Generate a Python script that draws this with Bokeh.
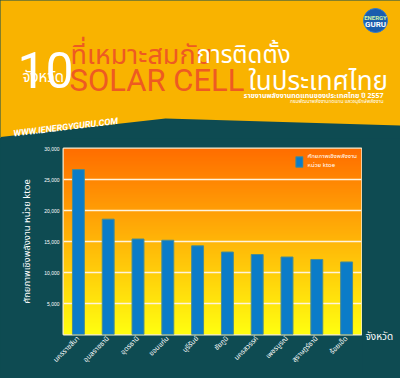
import numpy as np
from math import pi
from bokeh.plotting import figure
from bokeh.layouts import column, row
from bokeh.models import (Range1d, FactorRange, FixedTicker, NumeralTickFormatter,
                          Legend, LegendItem)
from bokeh.core.properties import value
from bokeh.embed import file_html
from bokeh.resources import INLINE

# ---------------- data ----------------
provinces = ["นครราชสีมา", "อุบลราชธานี", "อุดรธานี", "ขอนแก่น", "บุรีรัมย์",
             "ชัยภูมิ", "นครสวรรค์", "เพชรบูรณ์", "สุราษฎร์ธานี", "ร้อยเอ็ด"]
potential_ktoe = [26600, 18600, 15400, 15200, 14300, 13300, 12900, 12500, 12100, 11700]
y_ticks = [5000, 10000, 15000, 20000, 25000, 30000]

legend_label = "ศักยภาพเชิงพลังงาน\nหน่วย ktoe"
y_title = "ศักยภาพเชิงพลังงาน หน่วย ktoe"
x_title = "จังหวัด"

# ---------------- styles ----------------
YEL = "#F9B300"
TEAL = "#0E4B52"
RED = "#EE5A22"
BLUE = "#0B7CC8"
TH = "Noto Sans Thai, Noto Sans, DejaVu Sans, sans-serif"
LAT = "Roboto, sans-serif"


def blank(width, height, x0, x1, y0, y1, color):
    fig = figure(width=width, height=height, x_range=Range1d(x0, x1),
                 y_range=Range1d(y1, y0), output_backend="svg",
                 toolbar_location=None, min_border=0,
                 x_axis_location=None, y_axis_location=None)
    fig.frame_align = False
    fig.grid.visible = False
    fig.outline_line_color = None
    fig.background_fill_color = color
    fig.border_fill_color = color
    return fig


def txt(fig, x, y, s, size, color, font=TH, style="normal", align="left",
        baseline="alphabetic", angle=0):
    fig.text(x=[x], y=[y], text=[s], text_font=value(font), text_font_size=size,
             text_color=color, text_font_style=style, text_align=align,
             text_baseline=baseline, angle=angle)


# ---------------- header (page pixel coordinates) ----------------
h = blank(400, 138, 0, 400, 0, 138, YEL)
h.patch(x=[0, 165, 400, 400, 0], y=[136.5, 118, 125, 150, 150],
        fill_color=TEAL, line_color=None)

txt(h, 17, 69, "10", "50px", "white", font="Liberation Sans Narrow, Roboto")
txt(h, 22, 77, "จังหวัด", "15px", "white")
txt(h, 70, 55, "ที่เหมาะสมกับ", "27px", RED)
txt(h, 196, 55, "การติดตั้ง", "24px", "white")
txt(h, 69, 80, "SOLAR CELL", "31px", RED, font=LAT)
txt(h, 248, 81, "ในประเทศไทย", "26px", "white")
txt(h, 383, 95, "รายงานพลังงานทดแทนของประเทศไทย ปี 2557", "7px", "white",
    style="bold", align="right")
txt(h, 383, 101, "กรมพัฒนาพลังงานทดแทน และอนุรักษ์พลังงาน", "5px", "white",
    align="right")
txt(h, 13, 133, "WWW.IENERGYGURU.COM", "9px", "white", font=LAT,
    style="bold italic", angle=0.12)

# logo
h.circle(x=[375], y=[20], radius=12, fill_color="#1A5DAD", line_color="#2E7BD0")
txt(h, 375, 17, "ENERGY", "6px", "#CFF3A8", font=LAT, style="bold",
    align="center", baseline="middle")
txt(h, 375, 24, "GURU", "8px", "white", font=LAT, style="bold",
    align="center", baseline="middle")

# ---------------- chart ----------------
p = figure(width=362, height=237, x_range=FactorRange(*provinces),
           y_range=Range1d(0, 30000), output_backend="svg", toolbar_location=None,
           min_border_left=63, min_border_right=1, min_border_top=10,
           min_border_bottom=41)
p.frame_align = False
p.border_fill_color = TEAL
p.background_fill_color = "#FFB000"
p.x_range.range_padding = 0

# vertical gradient background of the plot area
n = 256
t = np.linspace(0.0, 1.0, n)
img = np.empty((n, 1), dtype=np.uint32)
v = img.view(dtype=np.uint8).reshape((n, 1, 4))
v[:, 0, 0] = 255
v[:, 0, 1] = (255 - t * (255 - 0x6E)).astype(np.uint8)
v[:, 0, 2] = (16 * (1 - t)).astype(np.uint8)
v[:, 0, 3] = 255
p.image_rgba(image=[img], x=0, y=0, dw=10, dh=30000, level="image")

bars = p.vbar(x=provinces, top=potential_ktoe, width=0.4, fill_color=BLUE,
              line_color="#4E8C8C", line_width=1)

legend = Legend(items=[LegendItem(label=legend_label, renderers=[bars])],
                location="top_right", margin=4, padding=4, glyph_width=9,
                glyph_height=13, label_standoff=4, background_fill_alpha=0,
                border_line_color=None, label_text_color="white",
                label_text_font=TH, label_text_font_size="6px",
                label_height=13)
p.add_layout(legend)

p.outline_line_color = "#F4EBD0"
p.outline_line_width = 2
p.xgrid.visible = False
p.ygrid.grid_line_color = "#FFF4DC"
p.ygrid.grid_line_width = 1.5

p.yaxis.ticker = FixedTicker(ticks=y_ticks)
p.yaxis.formatter = NumeralTickFormatter(format="0,0")
p.yaxis.major_label_text_font_size = "5px"
p.yaxis.major_label_text_color = "white"
p.yaxis.major_label_standoff = 4
p.yaxis.axis_label = y_title
p.yaxis.axis_label_text_font = TH
p.yaxis.axis_label_text_font_size = "9.5px"
p.yaxis.axis_label_text_font_style = "normal"
p.yaxis.axis_label_text_color = "white"
p.yaxis.axis_label_standoff = 7

p.xaxis.major_label_orientation = pi / 4
p.xaxis.major_label_text_font = TH
p.xaxis.major_label_text_font_size = "7px"
p.xaxis.major_label_text_color = "white"
p.xaxis.major_label_standoff = 3

for ax in (p.xaxis, p.yaxis):
    ax.axis_line_color = None
    ax.major_tick_line_color = None
    ax.minor_tick_line_color = None
    ax.major_tick_out = 0
    ax.major_tick_in = 0
    ax.minor_tick_out = 0

# right strip with the x-axis title (page pixel coordinates)
r = blank(38, 237, 362, 400, 138, 375, TEAL)
txt(r, 365, 336, x_title, "10px", "white")

# footer strip
f = blank(400, 3, 0, 400, 375, 378, YEL)

layout = column(h, row(p, r, spacing=0), f, spacing=0,
                styles={"background-color": TEAL})
open("out.html", "w").write(file_html(layout, INLINE))
